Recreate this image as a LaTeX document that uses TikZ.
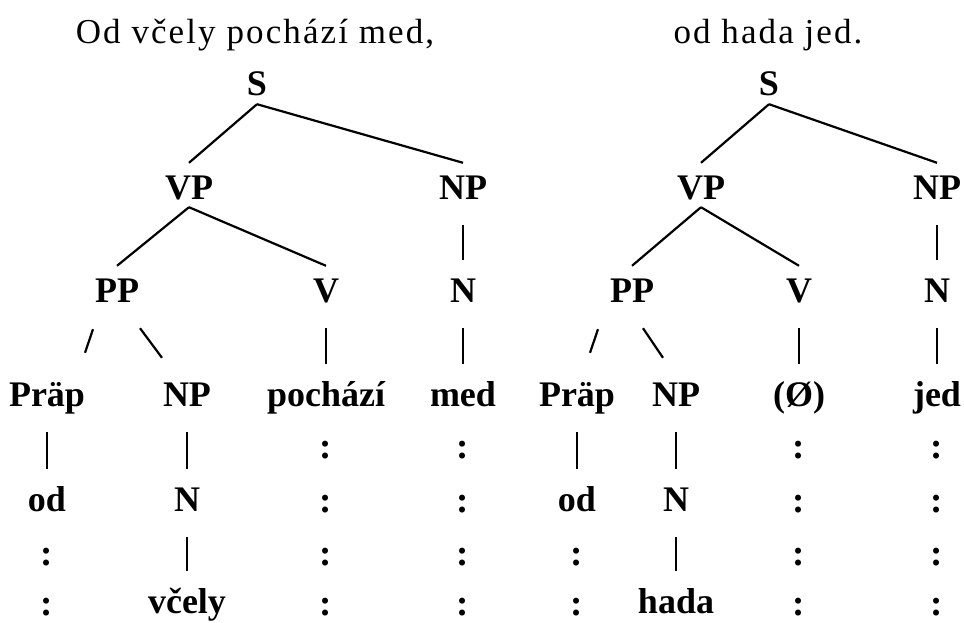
\documentclass[tikz,border=0pt]{standalone}
\usepackage{fontspec}
\setmainfont{Liberation Serif}
\usetikzlibrary{calc}
\begin{document}
\begin{tikzpicture}[x=1pt,y=-1pt,
  lab/.style={anchor=base, inner sep=0pt, text height=36pt, text depth=8pt,
              font=\fontsize{36}{40}\selectfont\bfseries},
  ttl/.style={anchor=base, inner sep=0pt,
              font=\fontsize{35}{40}\selectfont\addfontfeature{LetterSpace=6}},
  dots/.style={anchor=base, inner sep=0pt, font=\fontsize{37}{40}\selectfont\bfseries},
  edge/.style={line width=2.2pt},
  vbar/.style={edge, shorten <=18pt, shorten >=6pt}]
\useasboundingbox (0,0) rectangle (964,623);

% ---------- first clause ----------
\node[ttl] (t1) at (255,44) {Od včely pochází med,};
\node[lab] (S1)   at (257,96)  {S};
\node[lab] (VP1)  at (189,199) {VP};
\node[lab] (NP1)  at (463,199) {NP};
\node[lab] (PP1)  at (117,302) {PP};
\node[lab] (V1)   at (326,302) {V};
\node[lab] (N1)   at (463,302) {N};
\node[lab] (Pr1)  at (47,406)  {Präp};
\node[lab] (NPb1) at (187,406) {NP};
\node[lab] (W1)   at (326,406) {pochází};
\node[lab] (M1)   at (463,406) {med};
\node[lab] (od1)  at (47,511)  {od};
\node[lab] (Nb1)  at (187,511) {N};
\node[lab] (vc1)  at (187,613) {včely};

\draw[edge] (S1.south) -- (VP1.north);
\draw[edge] (S1.south) -- (NP1.north);
\draw[edge] (VP1.south) -- (PP1.north);
\draw[edge] (VP1.south) -- (V1.north);
\draw[vbar] (NP1.south) -- (N1.north);
\draw[vbar] (V1.south) -- (W1.north);
\draw[vbar] (N1.south) -- (M1.north);
\draw[vbar] (Pr1.south) -- (od1.north);
\draw[vbar] (NPb1.south) -- (Nb1.north);
\draw[vbar] (Nb1.south) -- (vc1.north);
\draw[edge] ($(PP1.south)+(-24,19)$) -- ($(Pr1.north)+(38,-17)$);
\draw[edge] ($(PP1.south)+(23,18)$) -- ($(NPb1.north)+(-25,-12)$);

% ---------- second clause ----------
\node[ttl] (t2) at (768,44) {od hada jed.};
\node[lab] (S2)   at (769,96)  {S};
\node[lab] (VP2)  at (701,199) {VP};
\node[lab] (NP2)  at (937,199) {NP};
\node[lab] (PP2)  at (632,302) {PP};
\node[lab] (V2)   at (799,302) {V};
\node[lab] (N2)   at (937,302) {N};
\node[lab] (Pr2)  at (577,406) {Präp};
\node[lab] (NPb2) at (676,406) {NP};
\node[lab] (W2)   at (799,406) {(Ø)};
\node[lab] (M2)   at (937,406) {jed};
\node[lab] (od2)  at (577,511) {od};
\node[lab] (Nb2)  at (676,511) {N};
\node[lab] (hd2)  at (676,613) {hada};

\draw[edge] (S2.south) -- (VP2.north);
\draw[edge] (S2.south) -- (NP2.north);
\draw[edge] (VP2.south) -- (PP2.north);
\draw[edge] (VP2.south) -- (V2.north);
\draw[vbar] (NP2.south) -- (N2.north);
\draw[vbar] (V2.south) -- (W2.north);
\draw[vbar] (N2.south) -- (M2.north);
\draw[vbar] (Pr2.south) -- (od2.north);
\draw[vbar] (NPb2.south) -- (Nb2.north);
\draw[vbar] (Nb2.south) -- (hd2.north);
\draw[edge] ($(PP2.south)+(-34,19)$) -- ($(Pr2.north)+(13,-17)$);
\draw[edge] ($(PP2.south)+(11,18)$) -- ($(NPb2.north)+(-13,-12)$);

% ---------- dotted continuations ----------
\foreach \cx/\cy [count=\i] in {47/565, 47/615,
    326/458, 326/512, 326/565, 326/615,
    463/458, 463/512, 463/565, 463/615,
    577/565, 577/615,
    799/458, 799/512, 799/565, 799/615,
    937/458, 937/512, 937/565, 937/615}
  \node[dots] (c\i) at (\cx,\cy) {:};
\end{tikzpicture}
\end{document}
